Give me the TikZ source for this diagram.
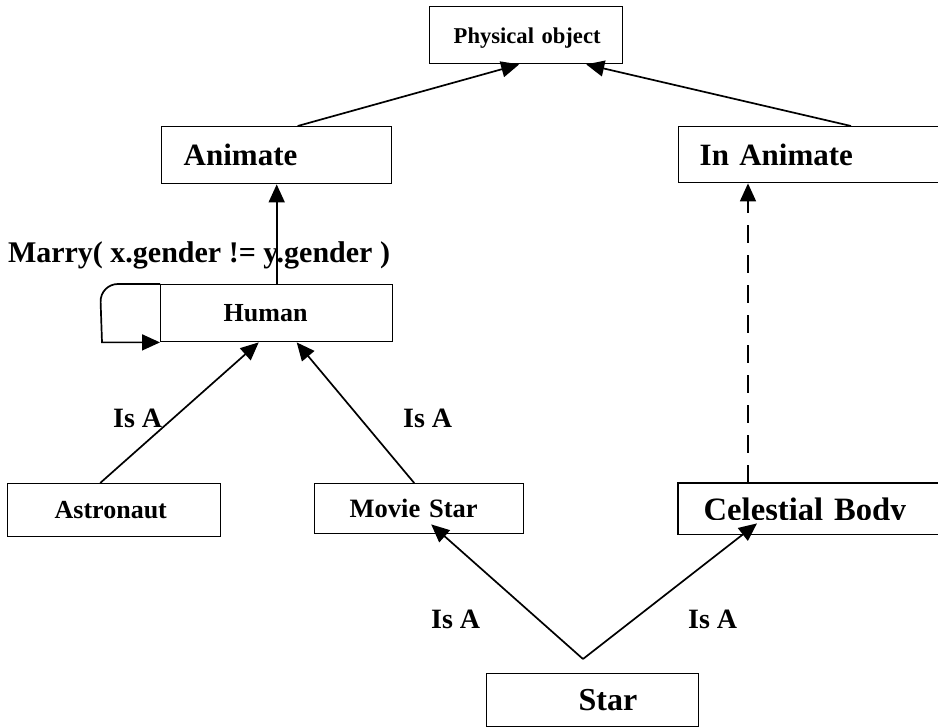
\documentclass[tikz,border=0pt]{standalone}
\usepackage{fontspec}
\setmainfont{Liberation Serif}
\usetikzlibrary{arrows.meta}
\begin{document}
\begin{tikzpicture}[x=1pt,y=-1pt,
  boxline/.style={draw, line width=1.4pt},
  box/.style={boxline, inner sep=0pt, anchor=north west, align=left, text depth=0pt},
  arr/.style={line width=1.7pt, -{Triangle[length=18pt,width=16pt]}},
  dasharr/.style={arr, dash pattern=on 18pt off 12pt},
  lbl/.style={font=\bfseries\fontsize{28}{28}\selectfont, anchor=base west, inner sep=0pt}]
\useasboundingbox (0,0) rectangle (938,727);

\node[box, minimum width=193pt, minimum height=57pt, text width=193pt,
      font=\bfseries\fontsize{22.6}{24}\selectfont] (phys) at (429,6) {\hspace*{24pt}Physical object};
\node[box, minimum width=230pt, minimum height=57pt, text width=230pt,
      font=\bfseries\fontsize{31}{33}\selectfont] (anim) at (161,126) {\hspace*{22pt}Animate};
\node[box, minimum width=272pt, minimum height=56pt, text width=272pt,
      font=\bfseries\fontsize{31}{33}\selectfont] (inanim) at (678,126) {\hspace*{21pt}In Animate};
\node[box, minimum width=232pt, minimum height=57pt, text width=232pt,
      font=\bfseries\fontsize{26}{28}\selectfont] (human) at (160,284) {\hspace*{63pt}Human};
\node[box, minimum width=213pt, minimum height=53pt, text width=213pt,
      font=\bfseries\fontsize{26}{28}\selectfont] (astro) at (7,483) {\hspace*{47pt}Astronaut};
\node[box, minimum width=209pt, minimum height=50pt, text width=209pt,
      font=\bfseries\fontsize{26.5}{28}\selectfont] (movie) at (314,483) {\hspace*{35pt}Movie Star};
\begin{scope}
  \clip (670,470) rectangle (950,519.5);
  \node[box, draw=none, minimum width=272pt, minimum height=50pt, text width=272pt,
        font=\bfseries\fontsize{32.6}{34}\selectfont] (celest) at (678,483) {\hspace*{25pt}Celestial Body};
\end{scope}
\draw[boxline] (celest.north west) rectangle (celest.south east);
\node[box, minimum width=212pt, minimum height=53pt, text width=212pt,
      font=\bfseries\fontsize{32}{34}\selectfont] (star) at (486,673) {\hspace*{92pt}Star};

\coordinate (apex) at (583,659);

% connectors
\draw[arr] ([xshift=21pt]anim.north) -- ([xshift=-7pt]phys.south);
\draw[arr] ([xshift=173pt]inanim.north west) -- ([xshift=60pt]phys.south);
\draw[arr] (human.north) -- (anim.south);
\draw[arr] (human.north west) [rounded corners=18pt] -- ([xshift=-60pt]human.north west) [sharp corners] -- ([xshift=-58pt]human.south west) -- (human.south west);
\draw[arr] ([xshift=-14pt]astro.north) -- ([xshift=-18pt]human.south);
\draw[arr] ([xshift=-5pt]movie.north) -- ([xshift=20pt]human.south);
\draw[dasharr] ([xshift=70pt]celest.north west) -- ([xshift=70pt]inanim.south west);
\draw[arr] (apex) -- ([xshift=12pt,yshift=10pt]movie.south);
\draw[arr] (apex) -- ([xshift=79pt,yshift=11pt]celest.south west);

% labels
\node[font=\bfseries\fontsize{30}{32}\selectfont, anchor=base, inner sep=0pt] (marry) at (199,263) {Marry( x.gender != y.gender )};
\node[lbl] (isa1) at (113,428) {Is A};
\node[lbl] (isa2) at (403,428) {Is A};
\node[lbl] (isa3) at (431,628) {Is A};
\node[lbl] (isa4) at (688,628) {Is A};
\end{tikzpicture}
\end{document}
